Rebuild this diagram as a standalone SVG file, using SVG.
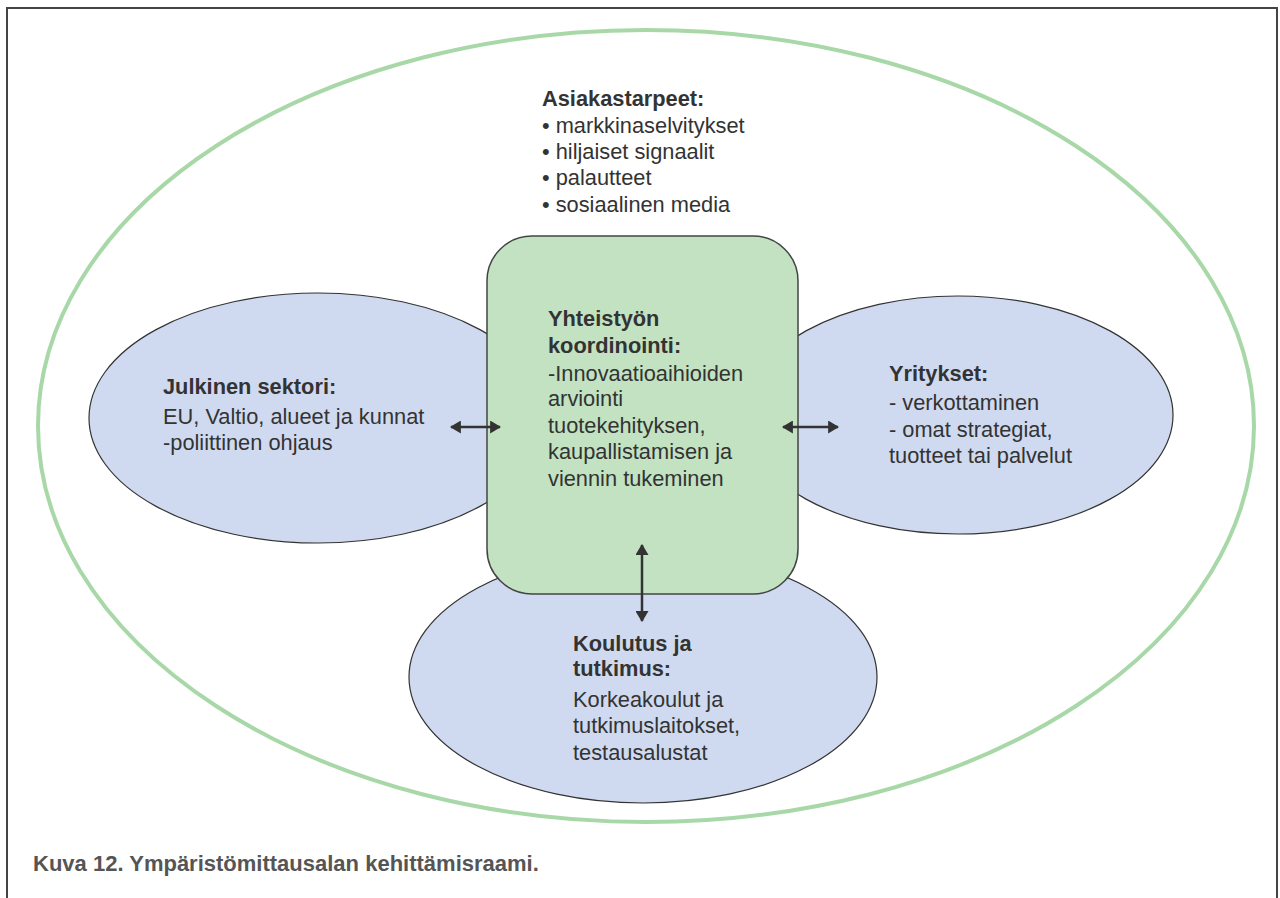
<svg xmlns="http://www.w3.org/2000/svg" width="1280" height="898" viewBox="0 0 1280 898">
  <style>
    .t { font-family: "Liberation Sans", Arial, sans-serif; font-size: 21.8px; fill: #333; }
    .b { font-weight: bold; }
    .node { fill: #cfdaf0; stroke: #333; stroke-width: 1.2; }
    .core { fill: #c2e2c2; stroke: #444; stroke-width: 1.5; }
    .conn { stroke: #333; stroke-width: 2.5; fill: none; marker-start: url(#ah); marker-end: url(#ah); }
  </style>
  <defs>
    <marker id="ah" viewBox="0 0 10 10" refX="9" refY="5" markerWidth="11" markerHeight="13" markerUnits="userSpaceOnUse" orient="auto-start-reverse" preserveAspectRatio="none">
      <path d="M0,0 L10,5 L0,10 Z" fill="#333"/>
    </marker>
  </defs>

  <rect width="1280" height="898" fill="#fff"/>
  <!-- frame -->
  <path d="M7,898 V8 H1277 V898" fill="none" stroke="#444" stroke-width="2"/>

  <!-- environment boundary -->
  <ellipse cx="646" cy="426" rx="608" ry="396" fill="none" stroke="#a8d8a8" stroke-width="4"/>

  <g id="asiakastarpeet">
    <text class="t b" x="542" y="106">Asiakastarpeet:</text>
    <text class="t" x="542" y="133">• markkinaselvitykset</text>
    <text class="t" x="542" y="159">• hiljaiset signaalit</text>
    <text class="t" x="542" y="185">• palautteet</text>
    <text class="t" x="542" y="212">• sosiaalinen media</text>
  </g>

  <g id="julkinen">
    <ellipse class="node" cx="318" cy="418" rx="229" ry="125"/>
    <text class="t b" x="163" y="394">Julkinen sektori:</text>
    <text class="t" x="163" y="424">EU, Valtio, alueet ja kunnat</text>
    <text class="t" x="163" y="450">-poliittinen ohjaus</text>
  </g>

  <g id="yritykset">
    <ellipse class="node" cx="958" cy="415" rx="215" ry="119"/>
    <text class="t b" x="889" y="381">Yritykset:</text>
    <text class="t" x="889" y="410">- verkottaminen</text>
    <text class="t" x="889" y="437">- omat strategiat,</text>
    <text class="t" x="889" y="463">tuotteet tai palvelut</text>
  </g>

  <g id="koulutus">
    <ellipse class="node" cx="643" cy="677" rx="234" ry="126"/>
    <text class="t b" x="573" y="651">Koulutus ja</text>
    <text class="t b" x="573" y="676">tutkimus:</text>
    <text class="t" x="573" y="707">Korkeakoulut ja</text>
    <text class="t" x="573" y="733">tutkimuslaitokset,</text>
    <text class="t" x="573" y="760">testausalustat</text>
  </g>

  <g id="koordinointi">
    <rect class="core" x="487" y="236" width="311" height="358" rx="45"/>
    <text class="t b" x="548" y="326">Yhteistyön</text>
    <text class="t b" x="548" y="353">koordinointi:</text>
    <text class="t" x="548" y="381">-Innovaatioaihioiden</text>
    <text class="t" x="548" y="406">arviointi</text>
    <text class="t" x="548" y="433">tuotekehityksen,</text>
    <text class="t" x="548" y="459">kaupallistamisen ja</text>
    <text class="t" x="548" y="486">viennin tukeminen</text>
  </g>

  <g id="connectors">
    <line class="conn" x1="451" y1="427" x2="500" y2="427"/>
    <line class="conn" x1="783" y1="427" x2="838" y2="427"/>
    <line class="conn" x1="642" y1="545" x2="642" y2="621"/>
  </g>

  <text class="t b" x="33" y="871" style="fill:#555;font-size:22px">Kuva 12. Ympäristömittausalan kehittämisraami.</text>
</svg>
